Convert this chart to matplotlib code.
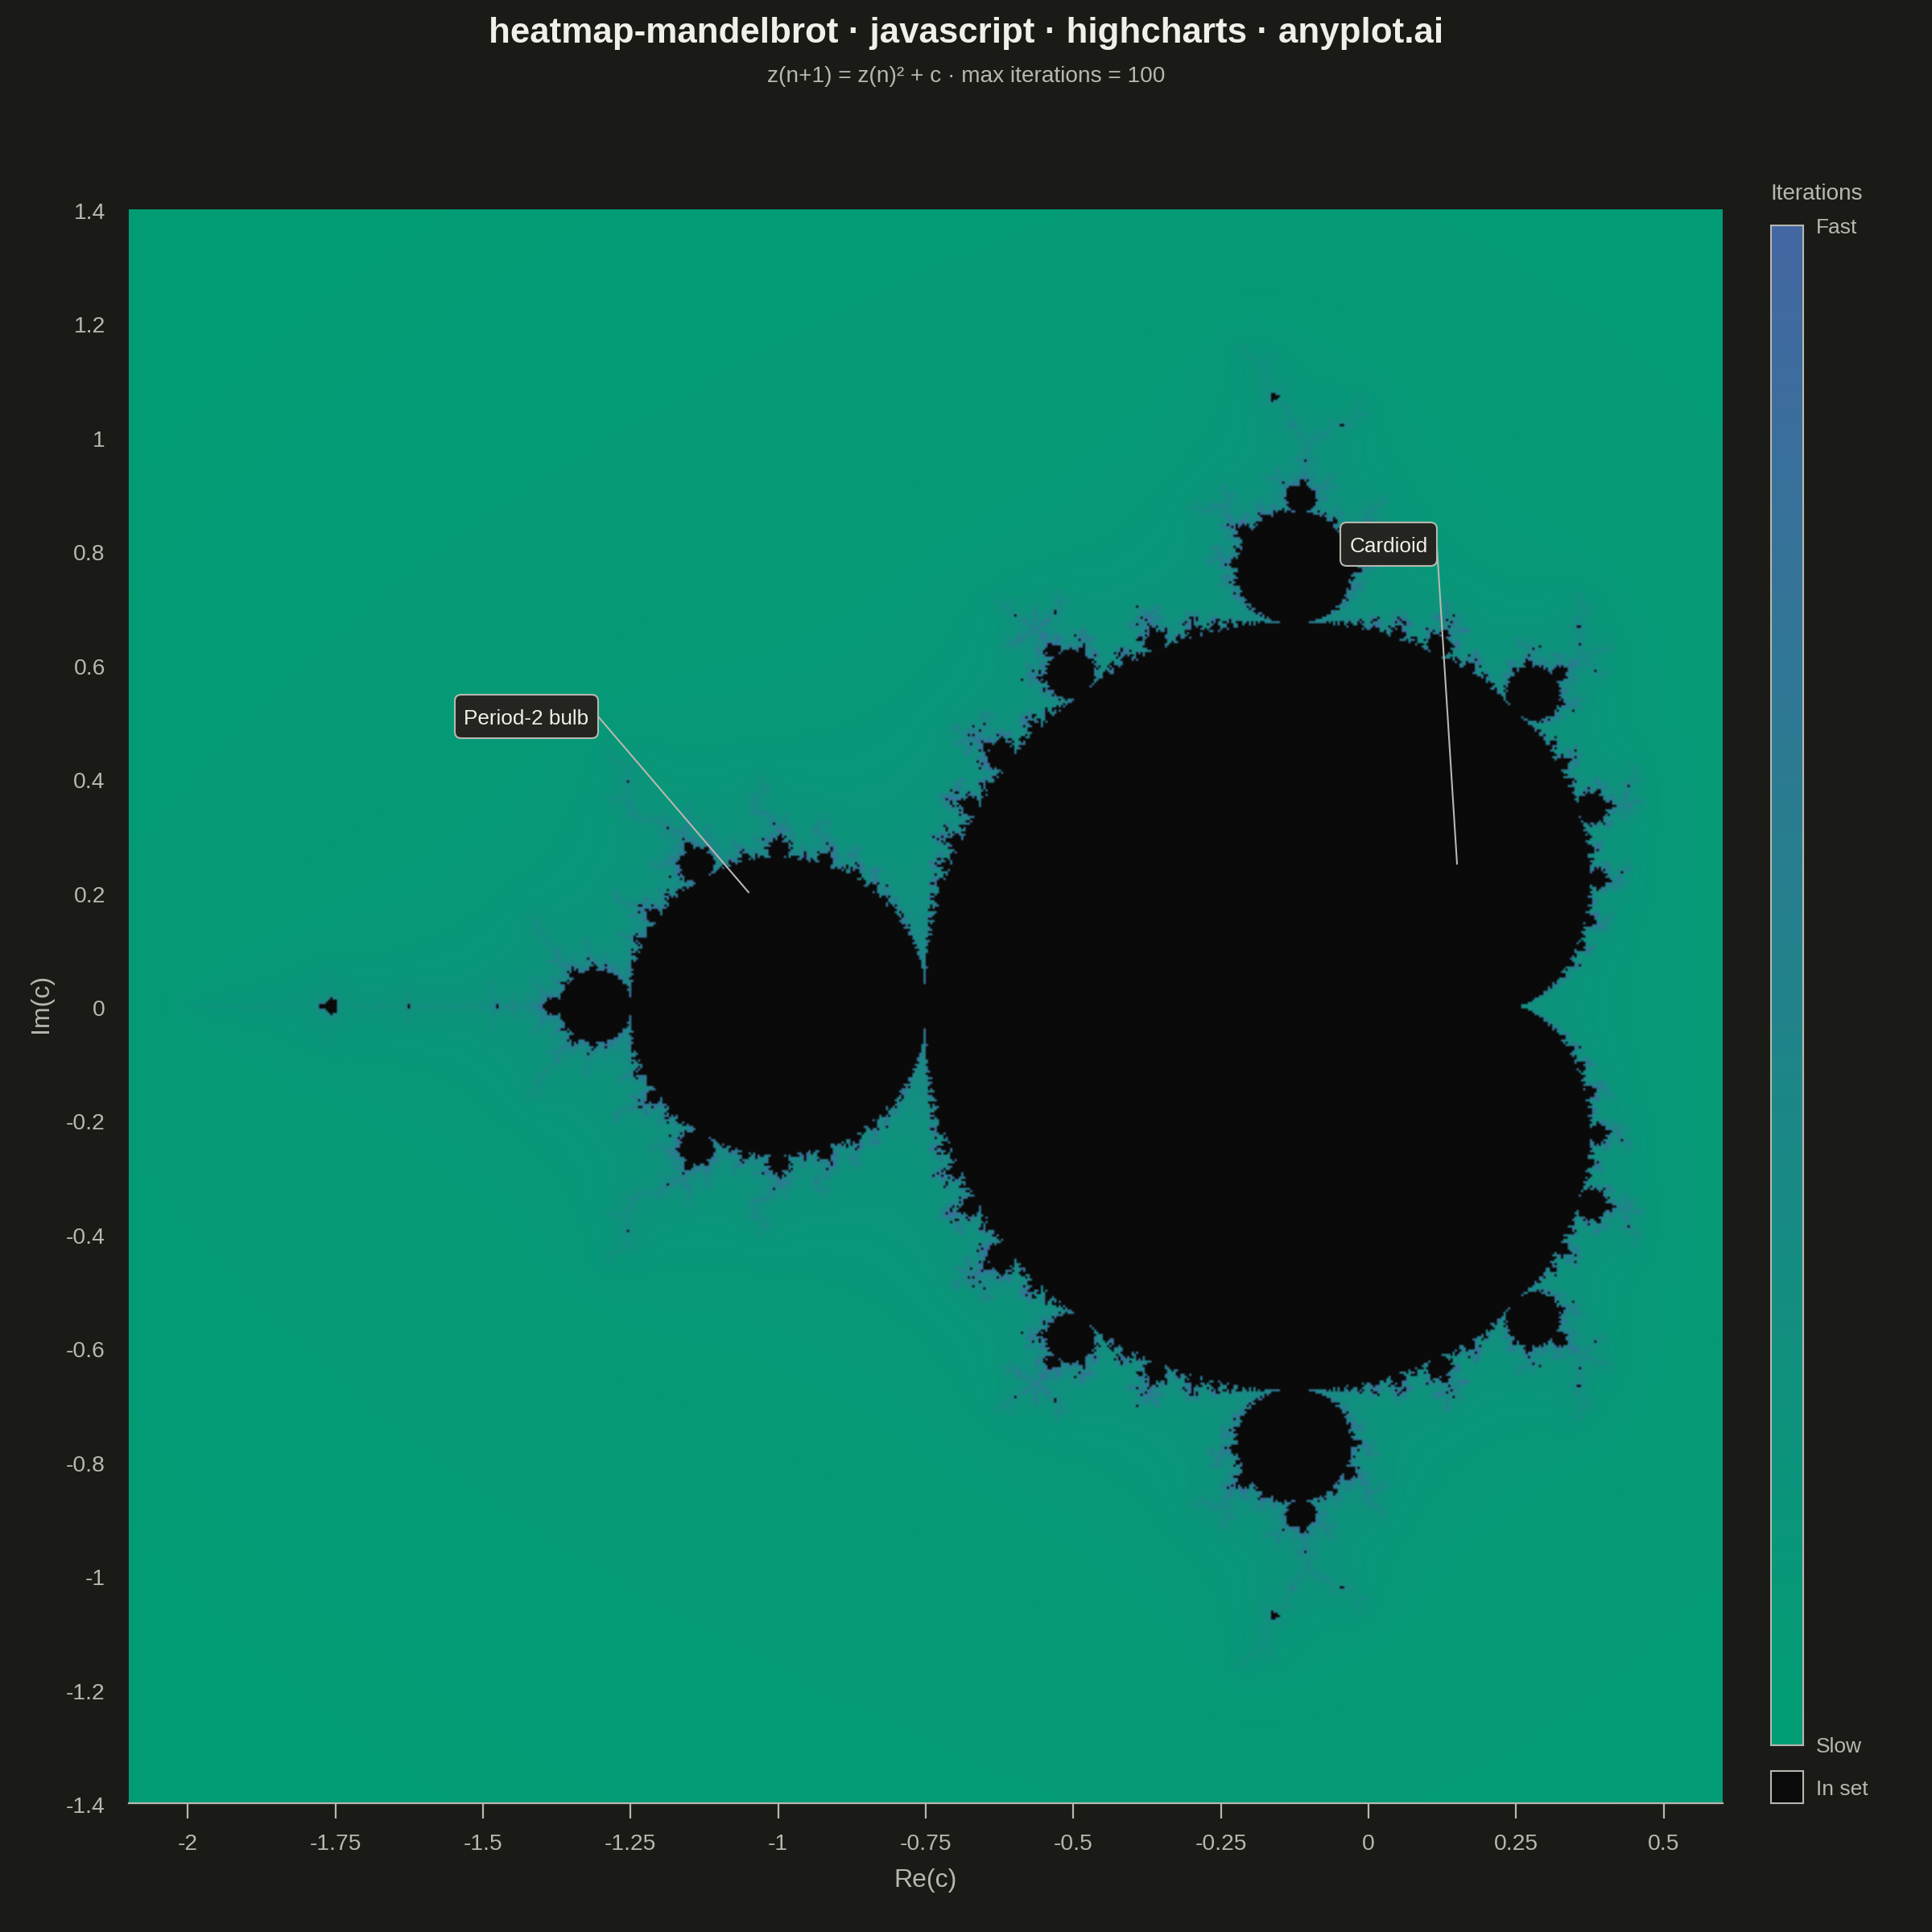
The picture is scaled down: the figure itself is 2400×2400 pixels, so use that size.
import matplotlib
matplotlib.use('Agg')
import matplotlib.pyplot as plt
import matplotlib.transforms as mtransforms
import numpy as np
from matplotlib.colors import LinearSegmentedColormap, to_rgba
from matplotlib.patches import FancyBboxPatch, Rectangle

plt.rcParams['font.family'] = ['Liberation Sans', 'DejaVu Sans']

# Chart values
x_ticks = [-2, -1.75, -1.5, -1.25, -1, -0.75, -0.5, -0.25, 0, 0.25, 0.5]
x_tick_labels = ['-2', '-1.75', '-1.5', '-1.25', '-1', '-0.75', '-0.5', '-0.25', '0', '0.25', '0.5']
y_ticks = [-1.4, -1.2, -1, -0.8, -0.6, -0.4, -0.2, 0, 0.2, 0.4, 0.6, 0.8, 1, 1.2, 1.4]
y_tick_labels = ['-1.4', '-1.2', '-1', '-0.8', '-0.6', '-0.4', '-0.2', '0', '0.2', '0.4', '0.6', '0.8', '1', '1.2', '1.4']
re_range = [-2.1, 0.6]
im_range = [-1.4, 1.4]
# the set in the reference sits about 2.8/2.7 taller than its Im axis says,
# so the grid is sampled over this range and then shown across im_range
im_sampled = [-1.35, 1.35]
max_iter = 100
callout_names = ['Cardioid', 'Period-2 bulb']
callout_re = [0.15, -1.05]
callout_im = [0.25, 0.2]

BG = '#1A1A17'
INK = '#F0EFE8'
SOFT = '#B8B7B0'
BOX = '#242420'
IN_SET = '#0A0A0A'
cmap = LinearSegmentedColormap.from_list('iters', ['#009E73', '#4467A3'])


# The heatmap cells are the escape counts of the recurrence in the subtitle,
# a grid this size can't be read off the picture cell by cell
def escape_counts(nx, ny):
    re = np.linspace(re_range[0], re_range[1], nx)
    im = np.linspace(im_sampled[0], im_sampled[1], ny)
    c = re[None, :] + 1j * im[:, None]
    z = np.zeros_like(c)
    counts = np.full(c.shape, np.nan)
    alive = np.ones(c.shape, dtype=bool)
    radius = 20.0
    for i in range(max_iter):
        z[alive] = z[alive] ** 2 + c[alive]
        esc = alive & (np.abs(z) > radius)
        counts[esc] = i + 2 - np.log2(np.log(np.abs(z[esc])) / np.log(radius))
        alive &= ~esc
    return counts


W, H = 2400, 2400


def fx(px):
    return px / W


def fy(py):
    return 1 - py / H


fig = plt.figure(figsize=(24, 24), dpi=100, facecolor=BG)
ax = fig.add_axes([fx(160), fy(2240), fx(2140) - fx(160), fy(260) - fy(2240)], facecolor=IN_SET)

counts = escape_counts(720, 720)
inside = ~np.isfinite(counts)
shade = np.clip((np.nan_to_num(counts) - 3) / max_iter, 0, 1) ** 0.75
rgba = cmap(shade)
rgba[inside] = to_rgba(IN_SET)
ax.imshow(rgba, origin='lower', extent=[re_range[0], re_range[1], im_range[0], im_range[1]],
          aspect='auto', interpolation='bilinear')
ax.set_xlim(re_range)
ax.set_ylim(im_range)

for side in ['top', 'left', 'right']:
    ax.spines[side].set_visible(False)
ax.spines['bottom'].set_color(SOFT)
ax.spines['bottom'].set_linewidth(1.6)

ax.set_xticks(x_ticks)
ax.set_xticklabels(x_tick_labels)
ax.set_yticks(y_ticks)
ax.set_yticklabels(y_tick_labels)
ax.tick_params(axis='x', colors=SOFT, labelsize=20.3, length=13.5, width=1.6, pad=13.5)
ax.tick_params(axis='y', colors=SOFT, labelsize=20.3, length=0, pad=21)
for t in ax.get_yticklabels():
    t.set_transform(t.get_transform() + mtransforms.ScaledTranslation(0, -2 / 100, fig.dpi_scale_trans))

fig.text(fx(1200), fy(42), 'heatmap-mandelbrot · javascript · highcharts · anyplot.ai', color=INK,
         fontsize=31.6, fontweight='bold', ha='center', va='center')
fig.text(fx(1200), fy(95), 'z(n+1) = z(n)² + c · max iterations = 100', color=SOFT,
         fontsize=20.2, ha='center', va='center')
fig.text(fx(1150), fy(2336), 'Re(c)', color=SOFT, fontsize=23, ha='center', va='center')
fig.text(fx(51), fy(1246), 'Im(c)', color=SOFT, fontsize=23, rotation=90, ha='center', va='center')

# Callouts
boxes = [(1665, 649, 1785, 703, 1785, 680), (565, 863, 743, 917, 743, 890)]
for name, cr, ci, (x0, y0, x1, y1, lx, ly) in zip(callout_names, callout_re, callout_im, boxes):
    ax.annotate('', xy=(cr, ci), xycoords='data', xytext=(fx(lx), fy(ly)), textcoords='figure fraction',
                arrowprops=dict(arrowstyle='-', color=SOFT, lw=1.5, shrinkA=0, shrinkB=0))
    fig.add_artist(FancyBboxPatch((fx(x0 + 8), fy(y1 - 8)), fx(x1 - x0 - 16), (y1 - y0 - 16) / H,
                                  boxstyle='round,pad=%f,rounding_size=%f' % (8 / W, 8 / W),
                                  transform=fig.transFigure, facecolor=BOX, edgecolor=SOFT,
                                  linewidth=1.5, zorder=5))
    fig.text(fx((x0 + x1) / 2), fy((y0 + y1) / 2 + 3), name, color=INK, fontsize=18.8,
             ha='center', va='center', zorder=6)

# Colour legend
cax = fig.add_axes([fx(2200), fy(2168), fx(40), (2168 - 280) / H])
cax.imshow(np.linspace(0, 1, 256)[:, None], origin='lower', cmap=cmap, aspect='auto')
cax.set_xticks([])
cax.set_yticks([])
for s in cax.spines.values():
    s.set_color(SOFT)
    s.set_linewidth(1.5)
fig.add_artist(Rectangle((fx(2200), fy(2240)), fx(40), 40 / H, transform=fig.transFigure,
                         facecolor=IN_SET, edgecolor=SOFT, linewidth=1.5))
fig.text(fx(2199), fy(241), 'Iterations', color=SOFT, fontsize=20.1, va='center')
fig.text(fx(2256), fy(283), 'Fast', color=SOFT, fontsize=19, va='center')
fig.text(fx(2256), fy(2170), 'Slow', color=SOFT, fontsize=19, va='center')
fig.text(fx(2256), fy(2223), 'In set', color=SOFT, fontsize=19, va='center')

fig.savefig('out.png', dpi=100, facecolor=BG)
